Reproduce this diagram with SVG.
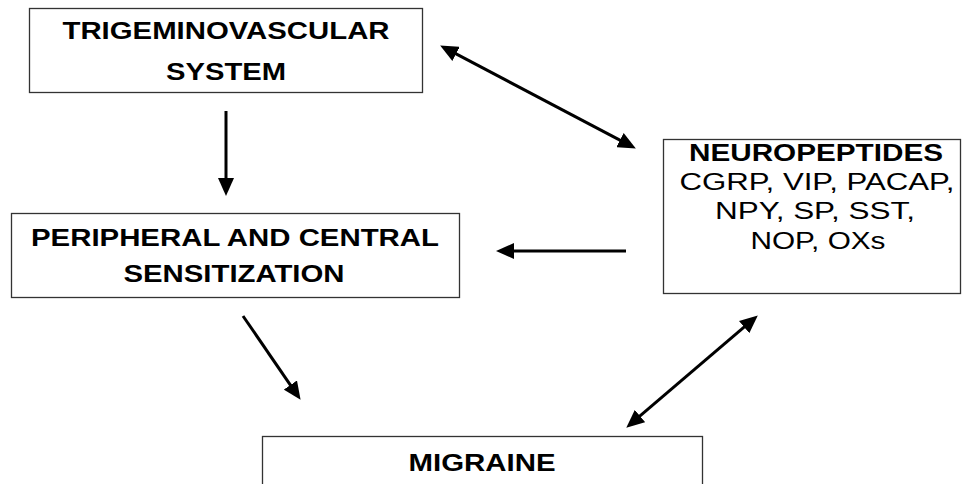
<svg xmlns="http://www.w3.org/2000/svg" width="962" height="484" viewBox="0 0 962 484">
<style>
.box{fill:#fff;stroke:#333;stroke-width:1.3}
.t{font-family:"Liberation Sans",Arial,sans-serif;font-size:23.5px;fill:#000;text-anchor:middle}
.b{font-weight:bold}
.c{stroke:#000;stroke-width:3;fill:none}
</style>
<defs>
<marker id="ah" viewBox="0 0 18 16" markerWidth="18" markerHeight="16" refX="8" refY="8" markerUnits="userSpaceOnUse" orient="auto-start-reverse">
<path d="M0,0 L18,8 L0,16 z" fill="#000"/>
</marker>
</defs>
<rect width="962" height="484" fill="#fff"/>
<g id="trigeminovascular">
<rect class="box" x="29.5" y="8.5" width="393" height="84"/>
<text class="t b" x="226" y="39" textLength="327" lengthAdjust="spacingAndGlyphs">TRIGEMINOVASCULAR</text>
<text class="t b" x="226" y="80" textLength="120" lengthAdjust="spacingAndGlyphs">SYSTEM</text>
</g>
<g id="sensitization">
<rect class="box" x="11.5" y="213.5" width="448" height="84"/>
<text class="t b" x="235" y="246" textLength="408" lengthAdjust="spacingAndGlyphs">PERIPHERAL AND CENTRAL</text>
<text class="t b" x="234" y="282" textLength="221" lengthAdjust="spacingAndGlyphs">SENSITIZATION</text>
</g>
<g id="neuropeptides">
<rect class="box" x="663.5" y="139.5" width="297" height="154"/>
<text class="t b" x="816" y="161" textLength="254" lengthAdjust="spacingAndGlyphs">NEUROPEPTIDES</text>
<text class="t" x="817" y="190" textLength="275" lengthAdjust="spacingAndGlyphs">CGRP, VIP, PACAP,</text>
<text class="t" x="815" y="219" textLength="200" lengthAdjust="spacingAndGlyphs">NPY, SP, SST,</text>
<text class="t" x="818" y="249" textLength="135" lengthAdjust="spacingAndGlyphs">NOP, OXs</text>
</g>
<g id="migraine">
<rect class="box" x="262.5" y="436.5" width="440" height="60"/>
<text class="t b" x="482" y="471" textLength="147" lengthAdjust="spacingAndGlyphs">MIGRAINE</text>
</g>
<g id="connectors">
<line class="c" x1="226" y1="111" x2="226" y2="186" marker-end="url(#ah)"/>
<line class="c" x1="449" y1="50.2" x2="627" y2="143.8" marker-start="url(#ah)" marker-end="url(#ah)"/>
<line class="c" x1="626" y1="251" x2="506" y2="251" marker-end="url(#ah)"/>
<line class="c" x1="243" y1="316" x2="294.9" y2="391.6" marker-end="url(#ah)"/>
<line class="c" x1="750.2" y1="321.9" x2="633.9" y2="421.2" marker-start="url(#ah)" marker-end="url(#ah)"/>
</g>
</svg>
